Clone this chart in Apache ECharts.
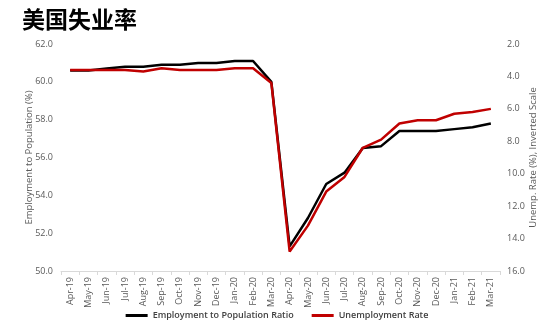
<!DOCTYPE html>
<html><head><meta charset="utf-8">
<script src="https://cdn.jsdelivr.net/npm/echarts@6/dist/echarts.min.js"></script>
<style>html,body{margin:0;padding:0;background:#fff}#c{width:554px;height:331px}</style>
</head><body><div id="c"></div>
<script>
const categories = ['Apr-19','May-19','Jun-19','Jul-19','Aug-19','Sep-19','Oct-19','Nov-19','Dec-19','Jan-20','Feb-20','Mar-20','Apr-20','May-20','Jun-20','Jul-20','Aug-20','Sep-20','Oct-20','Nov-20','Dec-20','Jan-21','Feb-21','Mar-21'];
const employmentRatio = [60.6,60.6,60.7,60.8,60.8,60.9,60.9,61.0,61.0,61.1,61.1,60.0,51.3,52.8,54.6,55.2,56.5,56.6,57.4,57.4,57.4,57.5,57.6,57.8];
const unemploymentRate = [3.6,3.6,3.6,3.6,3.7,3.5,3.6,3.6,3.6,3.5,3.5,4.4,14.8,13.2,11.1,10.2,8.4,7.9,6.9,6.7,6.7,6.3,6.2,6.0];
const leftTicks = {min:50, max:62, interval:2};
const rightTicks = {min:2, max:16, interval:2};

const font = 'Open Sans';
const chart = echarts.init(document.getElementById('c'), null, {renderer:'canvas'});
chart.setOption({
  animation:false,
  backgroundColor:'#fff',
  title:{text:'美国失业率', left:17, top:3, textStyle:{fontFamily:'Noto Sans CJK SC', fontWeight:'bold', fontSize:23, color:'#000'}},
  grid:{left:61, right:54, top:44, bottom:60},
  legend:{bottom:6, left:'center', itemGap:18, itemWidth:22, itemHeight:3, icon:'rect',
    textStyle:{fontFamily:font, fontSize:9, color:'#404040', fontWeight:600},
    data:['Employment to Population Ratio','Unemployment Rate']},
  xAxis:{type:'category', data:categories, boundaryGap:true,
    axisLine:{lineStyle:{color:'#d9d9d9'}},
    axisTick:{show:true, length:4, lineStyle:{color:'#d9d9d9'}},
    axisLabel:{rotate:90, fontFamily:font, fontSize:9, color:'#595959', interval:0, margin:6}},
  yAxis:[
    {type:'value', min:leftTicks.min, max:leftTicks.max, interval:leftTicks.interval,
     name:'Employment to Population (%)', nameLocation:'middle', nameGap:27, nameMoveOverlap:false,
     nameTextStyle:{fontFamily:font, fontSize:9.5, color:'#595959'},
     axisLine:{show:false}, axisTick:{show:false}, splitLine:{show:false},
     axisLabel:{fontFamily:font, fontSize:9, color:'#595959', formatter:v=>v.toFixed(1), margin:8}},
    {type:'value', min:rightTicks.min, max:rightTicks.max, interval:rightTicks.interval, inverse:true,
     name:'Unemp. Rate (%), Inverted Scale', nameLocation:'middle', nameGap:28, nameRotate:90, nameMoveOverlap:false,
     nameTextStyle:{fontFamily:font, fontSize:9.5, color:'#595959'},
     axisLine:{show:false}, axisTick:{show:false}, splitLine:{show:false},
     axisLabel:{fontFamily:font, fontSize:9, color:'#595959', formatter:v=>v.toFixed(1), margin:7}}
  ],
  series:[
    {name:'Employment to Population Ratio', type:'line', yAxisIndex:0, data:employmentRatio,
     symbol:'none', lineStyle:{color:'#000', width:2.5}, itemStyle:{color:'#000'}},
    {name:'Unemployment Rate', type:'line', yAxisIndex:1, data:unemploymentRate,
     symbol:'none', lineStyle:{color:'#c00000', width:2.5}, itemStyle:{color:'#c00000'}}
  ]
});
</script></body></html>
